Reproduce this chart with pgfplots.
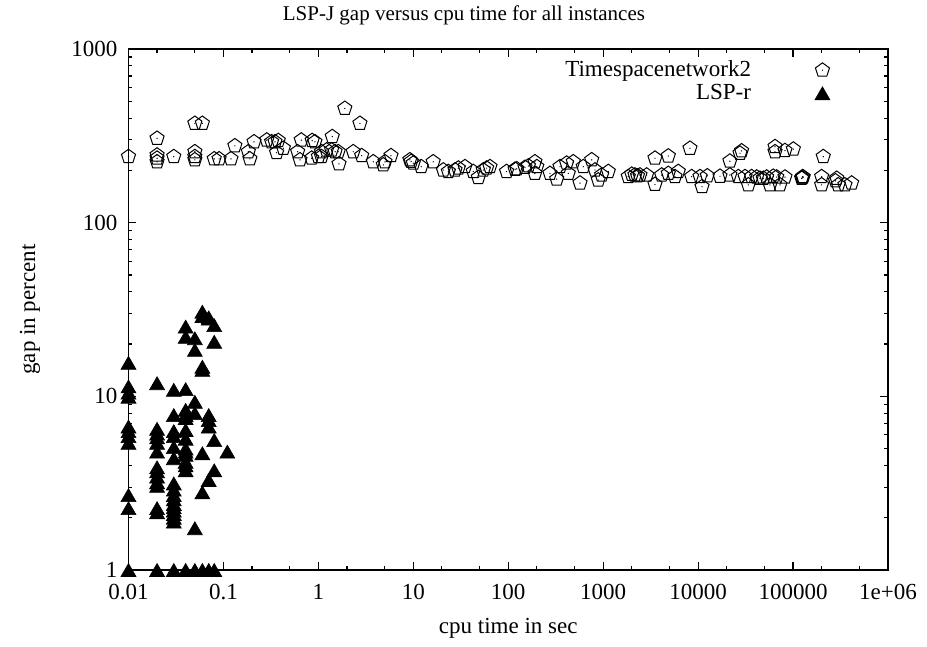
\documentclass[border=0pt]{standalone}
\usepackage{fontspec}
\setmainfont{Liberation Serif}
\usepackage{pgfplots}
\pgfplotsset{compat=1.18}
\usetikzlibrary{plotmarks}
\pgfdeclareplotmark{gpent}{%
  \pgfuseplotmark{pentagon}%
  \pgfpathcircle{\pgfpointorigin}{0.35pt}\pgfusepathqfill}
\pgfdeclareplotmark{gtri}{%
  \pgfpathmoveto{\pgfqpoint{0pt}{0.866\pgfplotmarksize}}%
  \pgfpathlineto{\pgfqpoint{\pgfplotmarksize}{-0.866\pgfplotmarksize}}%
  \pgfpathlineto{\pgfqpoint{-\pgfplotmarksize}{-0.866\pgfplotmarksize}}%
  \pgfpathclose\pgfusepathqfillstroke}
\pgfplotsset{mylegimg/.style={legend image code/.code={\path (0cm,0cm); \draw[##1] plot coordinates {(0.3cm+12pt,0cm)};}}}
\begin{document}
\fontsize{11.5}{13.8}\selectfont
\begin{tikzpicture}
\path[use as bounding box] (-64.25pt,-38.5pt) rectangle (399.25pt,285pt);
\begin{axis}[
  at={(0,0)}, anchor=south west,
  scale only axis, width=379.75pt, height=260.5pt,
  xmode=log, ymode=log,
  xmin=0.01, xmax=1000000, ymin=1, ymax=1000,
  xtick={0.01,0.1,1,10,100,1000,10000,100000,1000000},
  xticklabels={0.01,0.1,1,10,100,1000,10000,100000,1e+06},
  minor xtick={0.02,0.05,0.2,0.5,2,5,20,50,200,500,2000,5000,20000,50000,200000,500000},
  ytick={1,10,100,1000}, yticklabels={1,10,100,1000},
  minor ytick={2,3,4,5,6,7,8,9,20,30,40,50,60,70,80,90,200,300,400,500,600,700,800,900},
  major tick length=4pt, minor tick length=2pt,
  tick style={black, line width=0.6pt},
  axis line style={line width=0.9pt},
  xticklabel style={yshift=-3pt},
  yticklabel style={xshift=-1.5pt},
  title={LSP-J gap versus cpu time for all instances},
  every axis title/.style={at={(axis description cs:0.4417,1.0653)}, anchor=center, font=\fontsize{10.5}{12.6}\selectfont},
  xlabel={cpu time in sec},
  xlabel style={at={(axis description cs:0.5,-0.1113)}, anchor=center},
  ylabel={gap in percent},
  ylabel style={at={(axis description cs:-0.1297,0.5)}, anchor=center},
  legend style={at={(axis description cs:0.932,0.994)}, anchor=north east, draw=none, fill=none, column sep=13pt, row sep=-2pt},
  legend cell align=right, legend plot pos=right,
]
\addplot[only marks, mark=gpent, mark size=3.7pt, mark options={line width=0.5pt, draw=black, fill=none}, mylegimg] coordinates {
(0.01,240) (0.02,306) (0.02,245) (0.02,235) (0.02,224) (0.03,240)
(0.05,373) (0.06,373) (0.05,256) (0.05,240) (0.05,230) (0.08,233) (0.09,233)
(0.12,233) (0.132,277) (0.183,256) (0.19,233) (0.21,292) (0.286,299) (0.322,292)
(0.349,292) (0.378,297) (0.363,253) (0.428,268) (0.605,256) (0.64,230) (0.66,299)
(0.86,297) (0.85,235) (1.0,240) (1.08,256) (0.92,292) (1.08,240) (1.22,262)
(1.38,262) (1.50,256) (1.62,256) (1.65,218) (1.40,313) (1.9,455) (2.74,373)
(2.33,256) (2.86,243) (3.79,224) (4.83,215) (5.03,224) (5.82,243) (9.2,230)
(10,220) (12.1,210) (9.5,225) (16.2,224) (20.7,201) (23.4,197) (27.5,201)
(29.8,206) (35,210) (42.8,197) (48.4,182) (54.6,201) (59.2,206) (64.2,210)
(96,197) (118,203) (150,208) (123,204) (163,212) (191,224) (191,192) (200,210)
(275,192) (324,178) (351,210) (412,220) (429,192) (484,224) (570,169) (617,210)
(757,230) (820,201) (888,176) (964,188) (1132,197) (1837,184) (2161,188)
(2440,188) (2870,188) (2000,190) (2300,186) (3513,166) (3513,235) (4853,242)
(4853,192) (4130,188) (5702,184) (6180,197) (8206,268) (8550,184) (10470,184)
(11000,161) (12500,186) (17000,185) (21600,188) (21600,226) (27600,251)
(28700,259) (26500,184) (31200,184) (33800,165) (36600,184) (41400,183)
(44800,180) (48600,180) (52700,183) (57100,165) (61900,185) (67200,183)
(72800,165) (82200,183) (64600,274) (64600,256) (82200,260) (100700,265)
(123000,180) (128000,183) (125000,181) (126000,184) (208000,240) (200000,184)
(200000,165) (288000,180) (299000,165) (352000,165) (414000,169) (280000,174)
};
\addlegendentry{Timespacenetwork2}
\addplot[only marks, mark=gtri, mark size=3.75pt, mark options={line width=0.3pt, draw=black, fill=black}, mylegimg] coordinates {
(0.01,15.6) (0.01,11.4) (0.01,10.5) (0.01,9.95) (0.01,6.7) (0.01,6.3) (0.01,5.9)
(0.01,5.4) (0.01,2.7) (0.01,2.27) (0.01,1)
(0.02,11.9) (0.02,6.5) (0.02,6.1) (0.02,5.8) (0.02,5.4) (0.02,4.8) (0.02,3.9)
(0.02,3.7) (0.02,3.45) (0.02,3.2) (0.02,3.05) (0.02,2.27) (0.02,2.15) (0.02,1)
(0.03,10.9) (0.03,7.8) (0.03,6.3) (0.03,5.9) (0.03,5.1) (0.03,4.4) (0.03,3.15)
(0.03,2.9) (0.03,2.7) (0.03,2.55) (0.03,2.4) (0.03,2.3) (0.03,2.2) (0.03,2.1)
(0.03,2.0) (0.03,1.9) (0.03,1)
(0.04,25.2) (0.04,22.0) (0.04,11.0) (0.04,8.35) (0.04,7.8) (0.04,7.5) (0.04,6.4)
(0.04,5.7) (0.04,5.0) (0.04,4.8) (0.04,4.6) (0.04,4.2) (0.04,4.0) (0.04,3.75) (0.04,1)
(0.05,21.6) (0.05,18.5) (0.05,9.3) (0.05,8.0) (0.05,1.74) (0.05,1)
(0.06,30.7) (0.06,29.0) (0.06,14.8) (0.06,14.2) (0.06,4.7) (0.06,2.8) (0.06,1)
(0.07,28.5) (0.07,28.0) (0.07,7.8) (0.07,7.3) (0.07,6.7) (0.07,3.3) (0.07,1)
(0.08,25.7) (0.08,20.6) (0.08,5.6) (0.08,3.75) (0.08,1)
(0.11,4.8)
};
\addlegendentry{LSP-r}
\end{axis}
\end{tikzpicture}
\end{document}
